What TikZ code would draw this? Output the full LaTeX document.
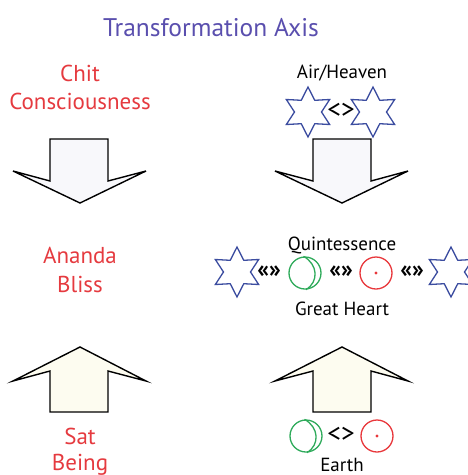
\documentclass[tikz,border=0pt]{standalone}
\usepackage{fontspec}
\setmainfont{PT Sans}
\usetikzlibrary{shapes.geometric}
\definecolor{titleblue}{HTML}{5A4FAE}
\definecolor{labred}{HTML}{E53A3F}
\definecolor{starblue}{HTML}{3C4DA0}
\definecolor{ggreen}{HTML}{2EAA5A}
\definecolor{rred}{HTML}{E8373B}
\definecolor{downfill}{HTML}{F8F8FB}
\definecolor{upfill}{HTML}{FDFCF0}
\tikzset{
  lab/.style={text=labred, font=\fontsize{23}{26}\selectfont, anchor=base, inner sep=0},
  rlab/.style={text=black, font=\fontsize{19}{22}\selectfont, anchor=base, inner sep=0},
  hexstar/.style={star, star points=6, star point ratio=1.85, minimum size=50pt, inner sep=0, draw=starblue, line width=1.3pt},
  gball/.style={circle, minimum size=32pt, inner sep=0, draw=ggreen, line width=1.3pt},
  rball/.style={circle, minimum size=32pt, inner sep=0, draw=rred, line width=1.3pt},
  swap/.style={text=black, font=\fontsize{27}{28}\selectfont, inner sep=0},
  dswap/.style={text=black, font=\bfseries\fontsize{24}{26}\selectfont, inner sep=0},
  arrowshape/.style={draw=black, line width=1.4pt, line join=miter},
}
\begin{document}
\begin{tikzpicture}[x=1pt, y=-1pt]
\useasboundingbox (0,0) rectangle (467,475);
% title
\node[anchor=base, inner sep=0, text=titleblue, font=\fontsize{25.5}{28}\selectfont] (title) at (211,36) {Transformation Axis};
% left labels
\node[lab] (chit) at (80,81) {Chit};
\node[lab] (cons) at (80,109) {Consciousness};
\node[lab] (ananda) at (80,263) {Ananda};
\node[lab] (bliss) at (80,292) {Bliss};
\node[lab] (sat) at (80,444) {Sat};
\node[lab] (being) at (80,470) {Being};
% left arrows
\draw[arrowshape, fill=downfill] (50,139) -- (108,139) -- (108,181) -- (146,171) -- (80,203) -- (13,171) -- (50,181) -- cycle;
\draw[arrowshape, fill=upfill] (50,412) -- (108,412) -- (108,371) -- (146,381) -- (80,347) -- (13,381) -- (50,371) -- cycle;
% right arrows
\draw[arrowshape, fill=downfill] (313,139) -- (371,139) -- (371,181) -- (408,171) -- (342,203) -- (275,171) -- (313,181) -- cycle;
\draw[arrowshape, fill=upfill] (313,412) -- (371,412) -- (371,371) -- (408,381) -- (342,347) -- (275,381) -- (313,371) -- cycle;
% air / heaven
\node[rlab] (air) at (342,78) {Air/Heaven};
\node[hexstar] (s1) at (308,112) {};
\node[hexstar] (s2) at (373,112) {};
\node[swap] (sw1) at (341,111) {<>};
% quintessence
\node[rlab] (quint) at (342,250) {Quintessence};
\node[rlab] (heart) at (342,315) {Great Heart};
\node[hexstar] (s3) at (237,272) {};
\node[hexstar] (s4) at (451,272) {};
\node[gball] (g1) at (305,273) {};
\node[rball] (r1) at (376,273) {};
\fill[rred] (r1.center) circle (1.6pt);
\draw[ggreen, line width=1.3pt] ([xshift=-1.5pt]g1.north) .. controls ([xshift=13pt,yshift=-8pt]g1.north) and ([xshift=14pt,yshift=8pt]g1.south) .. ([xshift=1pt]g1.south);
\node[dswap] (sw2) at (269,272) {«»};
\node[dswap] (sw3) at (341,272) {«»};
\node[dswap] (sw4) at (412,272) {«»};
% earth
\node[gball] (g2) at (306,436) {};
\node[rball] (r2) at (377,436) {};
\fill[rred] (r2.center) circle (1.6pt);
\draw[ggreen, line width=1.3pt] ([xshift=-1.5pt]g2.north) .. controls ([xshift=13pt,yshift=-8pt]g2.north) and ([xshift=14pt,yshift=8pt]g2.south) .. ([xshift=1pt]g2.south);
\node[swap] (sw5) at (341,435) {<>};
\node[rlab] (earth) at (342,471) {Earth};
\end{tikzpicture}
\end{document}
